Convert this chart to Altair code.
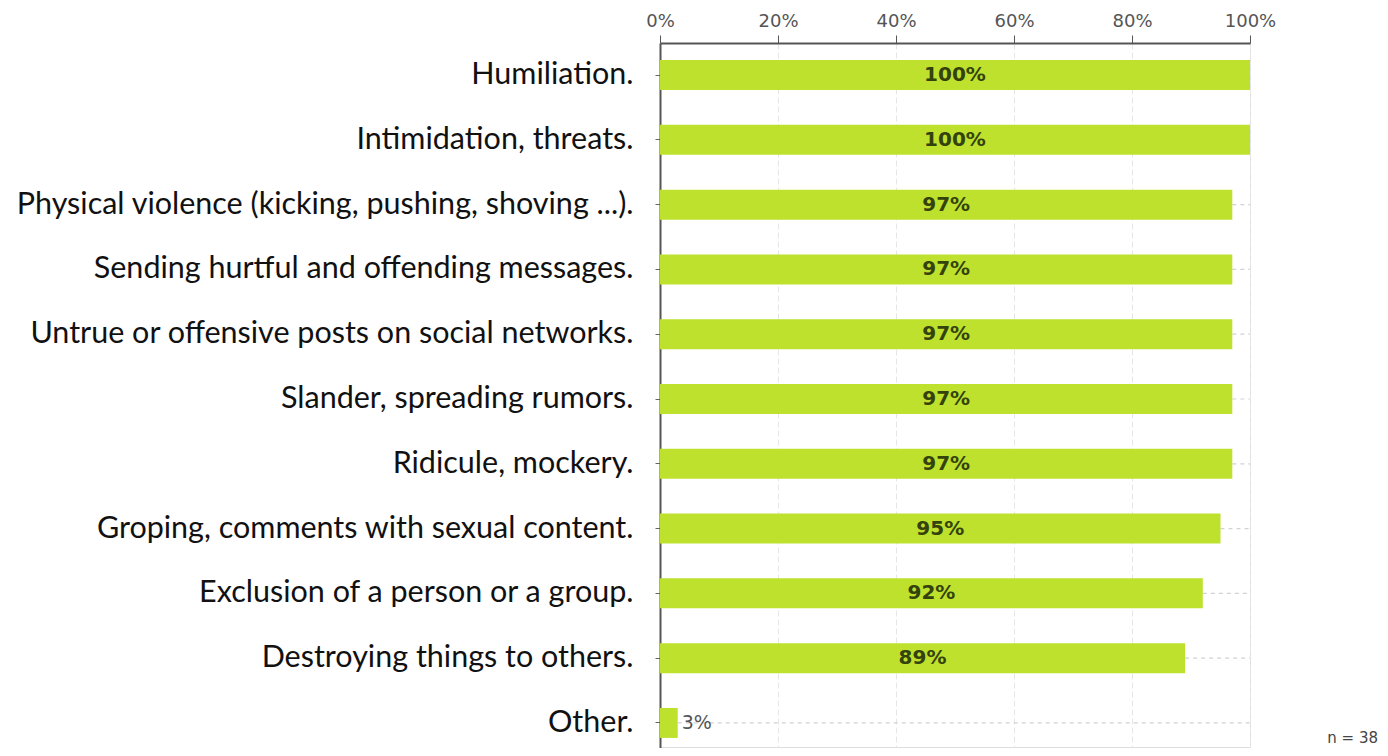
import altair as alt
import pandas as pd

categories = [
    "Humiliation.",
    "Intimidation, threats.",
    "Physical violence (kicking, pushing, shoving ...).",
    "Sending hurtful and offending messages.",
    "Untrue or offensive posts on social networks.",
    "Slander, spreading rumors.",
    "Ridicule, mockery.",
    "Groping, comments with sexual content.",
    "Exclusion of a person or a group.",
    "Destroying things to others.",
    "Other.",
]
values = [100, 100, 97, 97, 97, 97, 97, 95, 92, 89, 3]
x_ticks = [0, 20, 40, 60, 80, 100]

df = pd.DataFrame({"cat": categories, "val": values})
df["label"] = df["val"].astype(str) + "%"
df["full"] = 100
df["mid"] = df["val"] / 2
df["inside"] = df["val"] > 10

W, H = 590, 704
xscale = alt.Scale(domain=[0, 100], nice=False)
yenc = alt.Y("cat:N", sort=categories,
             scale=alt.Scale(paddingInner=0.5, paddingOuter=0.245, range=[0, 712]),
             axis=alt.Axis(title=None, labelFont="Lato", labelFontSize=30.5, labelColor="#111",
                           labelLimit=700, labelPadding=22, tickSize=5, tickColor="#666",
                           domainColor="#555", domainWidth=2, ticks=True, grid=False))

base = alt.Chart(df)

guides = base.mark_rule(color="#d2d2d2", strokeDash=[4, 4], strokeWidth=1.2).encode(
    x=alt.X("val:Q", scale=xscale), x2="full:Q", y=yenc)

bars = base.mark_bar(color="#bde12d", size=30).encode(
    x=alt.X("val:Q", scale=xscale,
            axis=alt.Axis(orient="top", values=x_ticks, format="d", labelExpr="datum.value + '%'",
                          title=None, labelFont="DejaVu Sans", labelFontSize=18, labelColor="#555",
                          labelFlush=False,
                          tickSize=8, tickColor="#555", domainColor="#555", domainWidth=2,
                          grid=True, gridColor="#e6e6e6", gridDash=[6, 3], labelPadding=5)),
    y=yenc)

txt_in = base.transform_filter("datum.inside").mark_text(
    font="DejaVu Sans", fontSize=20, color="#34420c", fontWeight="bold").encode(
    x=alt.X("mid:Q", scale=xscale), y=yenc, text="label:N")

txt_out = base.transform_filter("!datum.inside").mark_text(
    font="DejaVu Sans", fontSize=19, color="#555", align="left", dx=4).encode(
    x=alt.X("val:Q", scale=xscale), y=yenc, text="label:N")

note = alt.Chart(pd.DataFrame({"t": ["n = 38"]})).mark_text(
    font="DejaVu Sans", fontSize=15, color="#444", align="right").encode(
    x=alt.value(W + 128), y=alt.value(H - 9), text="t:N")

chart = alt.layer(guides, bars, txt_in, txt_out, note).properties(
    width=W, height=H,
    autosize=alt.AutoSizeParams(type="none"),
    padding={"left": 652, "top": 35, "right": 130, "bottom": 1},
).configure_view(fill="#f7f7f7", stroke=None).configure(background="white")

chart.save("out.html", embed_options={"renderer": "svg", "actions": False})
